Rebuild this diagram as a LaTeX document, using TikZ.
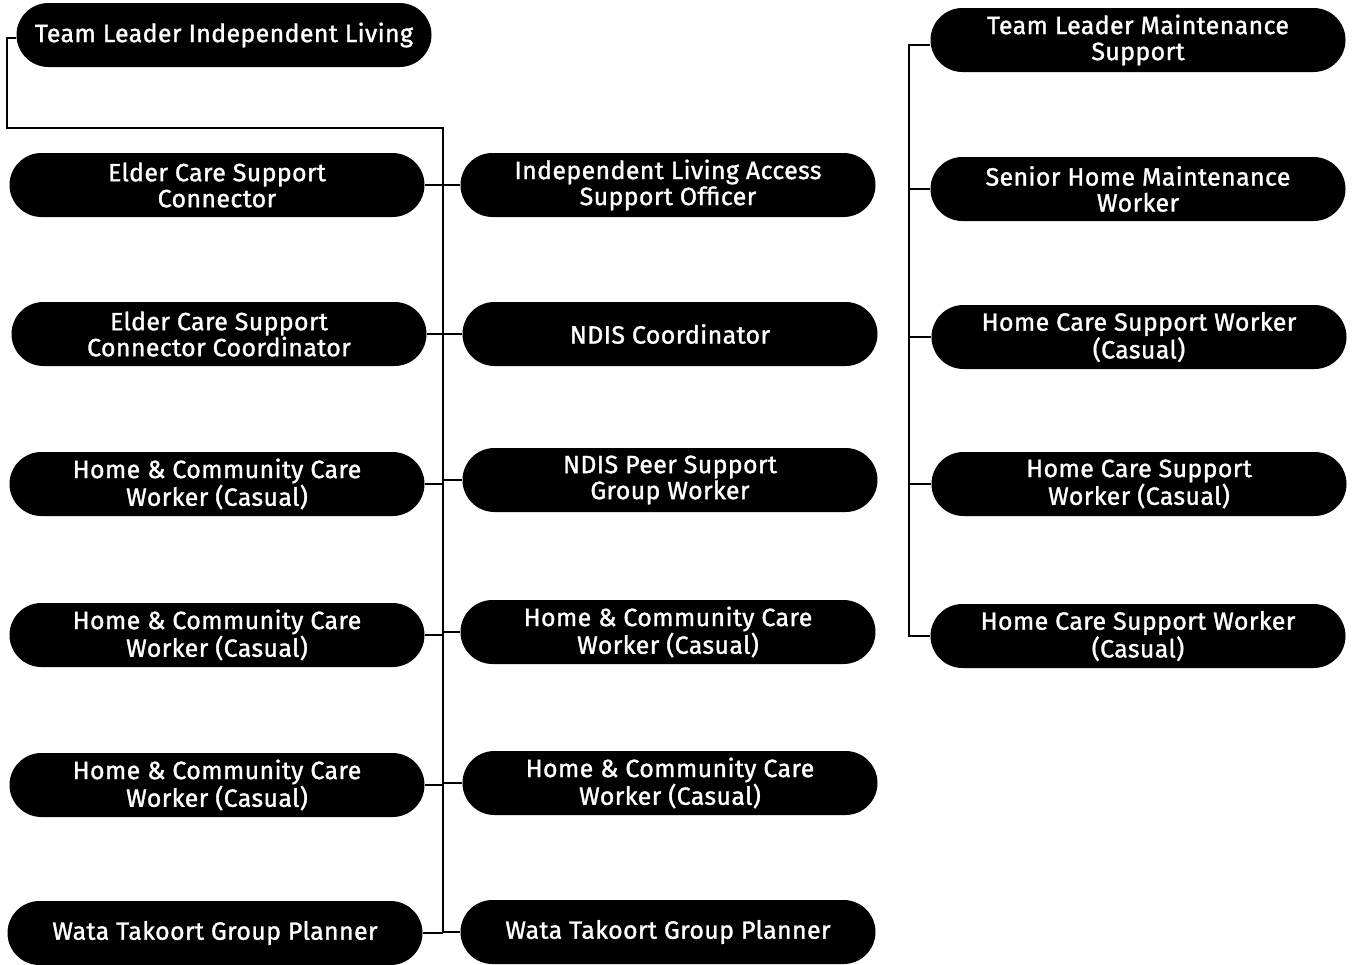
\documentclass[tikz,border=0pt]{standalone}
\usepackage{fontspec}
\setmainfont[LetterSpace=1.5,FakeBold=1.3]{Fira Sans}
\usetikzlibrary{shapes.misc,calc}
\tikzset{
  pill/.style={rounded rectangle, fill=black, text=white, minimum width=311.25pt, minimum height=48pt, inner sep=0pt, align=center, font=\fontsize{18.7}{19.5}\selectfont},
  conn/.style={line width=1.4pt, draw=black}
}
\begin{document}
\begin{tikzpicture}[x=0.75pt,y=-0.75pt]
\useasboundingbox (0,0) rectangle (1356,964);
% left column
\node[pill] (tli) at (224,35) {Team Leader Independent Living};
\node[pill] (l1) at (217,185) {Elder Care Support\\Connector};
\node[pill] (l2) at (219,334) {Elder Care Support\\Connector Coordinator};
\node[pill] (l3) at (217,484) {Home \& Community Care\\Worker (Casual)};
\node[pill] (l4) at (217,635) {Home \& Community Care\\Worker (Casual)};
\node[pill] (l5) at (217,785) {Home \& Community Care\\Worker (Casual)};
\node[pill] (l6) at (215,933) {Wata Takoort Group Planner};
% middle column
\node[pill] (m1) at (668,185) {Independent Living Access\\Support Officer};
\node[pill] (m2) at (670,334) {NDIS Coordinator};
\node[pill] (m3) at (670,480) {NDIS Peer Support\\Group Worker};
\node[pill] (m4) at (668,632) {Home \& Community Care\\Worker (Casual)};
\node[pill] (m5) at (670,783) {Home \& Community Care\\Worker (Casual)};
\node[pill] (m6) at (668,932) {Wata Takoort Group Planner};
% right column
\node[pill] (rt) at (1138,40) {Team Leader Maintenance\\Support};
\node[pill] (r1) at (1138,189) {Senior Home Maintenance\\Worker};
\node[pill] (r2) at (1139,337) {Home Care Support Worker\\(Casual)};
\node[pill] (r3) at (1139,484) {Home Care Support\\Worker (Casual)};
\node[pill] (r4) at (1138,636) {Home Care Support Worker\\(Casual)};
% connectors
\coordinate (lx) at (7,128);
\coordinate (sp) at (443,128);
\coordinate (spb) at (443,933);
\coordinate (rx) at (909,45);
\coordinate (tla) at ($(tli.west)+(0,3)$);
\coordinate (rta) at ($(rt.west)+(0,5)$);
\draw[conn] (tla) -| (lx) -- (sp) -- (spb);
\foreach \n in {l1,l2,l3,l4,l5,l6} {\draw[conn] (\n.east) -- (\n.east -| sp);}
\foreach \n in {m1,m2,m3,m4,m5,m6} {\draw[conn] (\n.west) -- (\n.west -| sp);}
\draw[conn] (rta) -- (rta -| rx) -- (r4.west -| rx) -- (r4.west);
\foreach \n in {r1,r2,r3} {\draw[conn] (\n.west) -- (\n.west -| rx);}
\end{tikzpicture}
\end{document}
